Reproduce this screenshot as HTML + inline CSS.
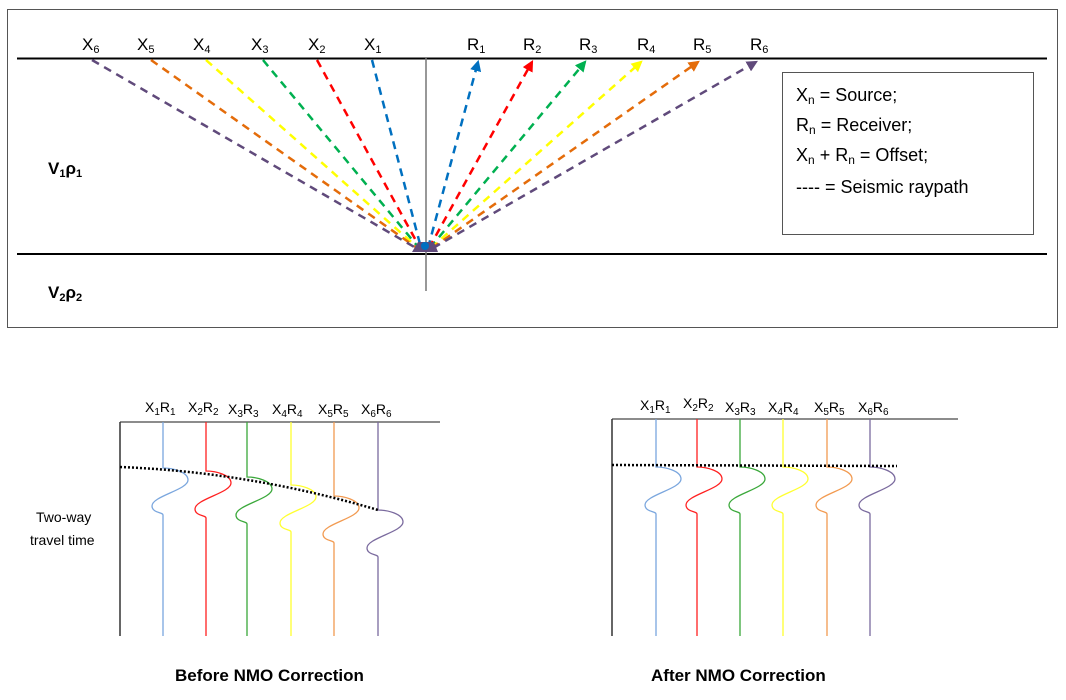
<!DOCTYPE html>
<html><head><meta charset="utf-8"><style>
body{margin:0;background:#fff}
svg{display:block;font-family:"Liberation Sans",sans-serif}
</style></head><body>
<svg width="1066" height="700" viewBox="0 0 1066 700">
<defs>
<marker id="a0" viewBox="0 0 10 10" refX="8" refY="5" markerWidth="4.5" markerHeight="4.5" orient="auto"><path d="M0,0L10,5L0,10z" fill="#0070c0"/></marker>
<marker id="a1" viewBox="0 0 10 10" refX="8" refY="5" markerWidth="4.5" markerHeight="4.5" orient="auto"><path d="M0,0L10,5L0,10z" fill="#ff0000"/></marker>
<marker id="a2" viewBox="0 0 10 10" refX="8" refY="5" markerWidth="4.5" markerHeight="4.5" orient="auto"><path d="M0,0L10,5L0,10z" fill="#00b050"/></marker>
<marker id="a3" viewBox="0 0 10 10" refX="8" refY="5" markerWidth="4.5" markerHeight="4.5" orient="auto"><path d="M0,0L10,5L0,10z" fill="#ffff00"/></marker>
<marker id="a4" viewBox="0 0 10 10" refX="8" refY="5" markerWidth="4.5" markerHeight="4.5" orient="auto"><path d="M0,0L10,5L0,10z" fill="#e46c0a"/></marker>
<marker id="a5" viewBox="0 0 10 10" refX="8" refY="5" markerWidth="4.5" markerHeight="4.5" orient="auto"><path d="M0,0L10,5L0,10z" fill="#604a7b"/></marker>
</defs>
<rect x="7.5" y="9.5" width="1050" height="318" fill="none" stroke="#555" stroke-width="1"/>
<line x1="17" y1="58.5" x2="1047" y2="58.5" stroke="#000" stroke-width="2"/>
<line x1="17" y1="254" x2="1047" y2="254" stroke="#000" stroke-width="2"/>
<line x1="426" y1="58" x2="426" y2="291" stroke="#777" stroke-width="1.5"/>
<g stroke-width="2.5" stroke-dasharray="8,6" fill="none">
<line x1="372" y1="60" x2="421" y2="248" stroke="#0070c0"/>
<line x1="317" y1="60" x2="420" y2="248" stroke="#ff0000"/>
<line x1="263" y1="60" x2="419" y2="248" stroke="#00b050"/>
<line x1="206" y1="60" x2="418" y2="248" stroke="#ffff00"/>
<line x1="151" y1="60" x2="417" y2="248" stroke="#e46c0a"/>
<line x1="92" y1="60" x2="416" y2="248" stroke="#604a7b"/>
<line x1="428" y1="248" x2="478" y2="62" stroke="#0070c0" marker-end="url(#a0)"/>
<line x1="429" y1="248" x2="532" y2="62" stroke="#ff0000" marker-end="url(#a1)"/>
<line x1="430" y1="248" x2="585" y2="62" stroke="#00b050" marker-end="url(#a2)"/>
<line x1="431" y1="248" x2="641" y2="62" stroke="#ffff00" marker-end="url(#a3)"/>
<line x1="432" y1="248" x2="698" y2="62" stroke="#e46c0a" marker-end="url(#a4)"/>
<line x1="433" y1="248" x2="756" y2="62" stroke="#604a7b" marker-end="url(#a5)"/>
</g>
<path d="M412,252 L418,242 L434,242 L438,252 Z" fill="#604a7b"/>
<circle cx="425" cy="246" r="4" fill="#0070c0"/>
<g font-size="17" fill="#000">
<text x="82" y="50">X<tspan font-size="11" dy="3">6</tspan></text>
<text x="137" y="50">X<tspan font-size="11" dy="3">5</tspan></text>
<text x="193" y="50">X<tspan font-size="11" dy="3">4</tspan></text>
<text x="251" y="50">X<tspan font-size="11" dy="3">3</tspan></text>
<text x="308" y="50">X<tspan font-size="11" dy="3">2</tspan></text>
<text x="364" y="50">X<tspan font-size="11" dy="3">1</tspan></text>
<text x="467" y="50">R<tspan font-size="11" dy="3">1</tspan></text>
<text x="523" y="50">R<tspan font-size="11" dy="3">2</tspan></text>
<text x="579" y="50">R<tspan font-size="11" dy="3">3</tspan></text>
<text x="637" y="50">R<tspan font-size="11" dy="3">4</tspan></text>
<text x="693" y="50">R<tspan font-size="11" dy="3">5</tspan></text>
<text x="750" y="50">R<tspan font-size="11" dy="3">6</tspan></text>
<text x="48" y="174" font-weight="bold">V<tspan font-size="11" dy="3">1</tspan><tspan dy="-3">ρ</tspan><tspan font-size="11" dy="3">1</tspan></text>
<text x="48" y="298" font-weight="bold">V<tspan font-size="11" dy="3">2</tspan><tspan dy="-3">ρ</tspan><tspan font-size="11" dy="3">2</tspan></text>
</g>
<rect x="782.5" y="72.5" width="251" height="162" fill="#fff" stroke="#555"/>
<g font-size="18" fill="#000">
<text x="796" y="101">X<tspan font-size="12" dy="3">n</tspan><tspan dy="-3"> = Source;</tspan></text>
<text x="796" y="131">R<tspan font-size="12" dy="3">n</tspan><tspan dy="-3"> = Receiver;</tspan></text>
<text x="796" y="161">X<tspan font-size="12" dy="3">n</tspan><tspan dy="-3"> + R</tspan><tspan font-size="12" dy="3">n</tspan><tspan dy="-3"> = Offset;</tspan></text>
<text x="796" y="193">---- = Seismic raypath</text>
</g>
<!-- Before panel -->
<line x1="120" y1="422" x2="440" y2="422" stroke="#666" stroke-width="1.5"/>
<line x1="120" y1="422" x2="120" y2="636" stroke="#333" stroke-width="1.5"/>
<g fill="none" stroke-width="1.3">
<path d="M163,422 V468 C173,468 188,472 188,480 C188,490 152,496 152,506 C152,513 163,512 163,515 V636" stroke="#7aa6de"/>
<path d="M206,422 V471 C216,471 231,475 231,483 C231,493 195,499 195,509 C195,516 206,515 206,518 V636" stroke="#ff2020"/>
<path d="M247,422 V477 C257,477 272,481 272,489 C272,499 236,505 236,515 C236,522 247,521 247,524 V636" stroke="#3aa83a"/>
<path d="M291,422 V485 C301,485 316,489 316,497 C316,507 280,513 280,523 C280,530 291,529 291,532 V636" stroke="#ffff30"/>
<path d="M334,422 V496 C344,496 359,500 359,508 C359,518 323,524 323,534 C323,541 334,540 334,543 V636" stroke="#f29a50"/>
<path d="M378,422 V510 C388,510 403,514 403,522 C403,532 367,538 367,548 C367,555 378,554 378,557 V636" stroke="#7a6a9e"/>
</g>
<path d="M120,467 Q250,472 378,510" fill="none" stroke="#000" stroke-width="2.5" stroke-dasharray="2,2"/>
<g font-size="14" fill="#000">
<text x="145" y="412">X<tspan font-size="10" dy="3">1</tspan><tspan dy="-3">R</tspan><tspan font-size="10" dy="3">1</tspan></text>
<text x="188" y="412">X<tspan font-size="10" dy="3">2</tspan><tspan dy="-3">R</tspan><tspan font-size="10" dy="3">2</tspan></text>
<text x="228" y="414">X<tspan font-size="10" dy="3">3</tspan><tspan dy="-3">R</tspan><tspan font-size="10" dy="3">3</tspan></text>
<text x="272" y="414">X<tspan font-size="10" dy="3">4</tspan><tspan dy="-3">R</tspan><tspan font-size="10" dy="3">4</tspan></text>
<text x="318" y="414">X<tspan font-size="10" dy="3">5</tspan><tspan dy="-3">R</tspan><tspan font-size="10" dy="3">5</tspan></text>
<text x="361" y="414">X<tspan font-size="10" dy="3">6</tspan><tspan dy="-3">R</tspan><tspan font-size="10" dy="3">6</tspan></text>
<text x="36" y="522">Two-way</text>
<text x="30" y="545">travel time</text>
</g>
<!-- After panel -->
<line x1="612" y1="419" x2="958" y2="419" stroke="#666" stroke-width="1.5"/>
<line x1="612" y1="419" x2="612" y2="636" stroke="#333" stroke-width="1.5"/>
<g fill="none" stroke-width="1.3">
<path d="M656,419 V467 C666,467 681,471 681,479 C681,489 645,495 645,505 C645,512 656,511 656,514 V636" stroke="#7aa6de"/>
<path d="M697,419 V467 C707,467 722,471 722,479 C722,489 686,495 686,505 C686,512 697,511 697,514 V636" stroke="#ff2020"/>
<path d="M740,419 V467 C750,467 765,471 765,479 C765,489 729,495 729,505 C729,512 740,511 740,514 V636" stroke="#3aa83a"/>
<path d="M783,419 V467 C793,467 808,471 808,479 C808,489 772,495 772,505 C772,512 783,511 783,514 V636" stroke="#ffff30"/>
<path d="M827,419 V467 C837,467 852,471 852,479 C852,489 816,495 816,505 C816,512 827,511 827,514 V636" stroke="#f29a50"/>
<path d="M870,419 V467 C880,467 895,471 895,479 C895,489 859,495 859,505 C859,512 870,511 870,514 V636" stroke="#7a6a9e"/>
</g>
<line x1="612" y1="465" x2="897" y2="466" stroke="#000" stroke-width="2.5" stroke-dasharray="2,2"/>
<g font-size="14" fill="#000">
<text x="640" y="410">X<tspan font-size="10" dy="3">1</tspan><tspan dy="-3">R</tspan><tspan font-size="10" dy="3">1</tspan></text>
<text x="683" y="408">X<tspan font-size="10" dy="3">2</tspan><tspan dy="-3">R</tspan><tspan font-size="10" dy="3">2</tspan></text>
<text x="725" y="412">X<tspan font-size="10" dy="3">3</tspan><tspan dy="-3">R</tspan><tspan font-size="10" dy="3">3</tspan></text>
<text x="768" y="412">X<tspan font-size="10" dy="3">4</tspan><tspan dy="-3">R</tspan><tspan font-size="10" dy="3">4</tspan></text>
<text x="814" y="412">X<tspan font-size="10" dy="3">5</tspan><tspan dy="-3">R</tspan><tspan font-size="10" dy="3">5</tspan></text>
<text x="858" y="412">X<tspan font-size="10" dy="3">6</tspan><tspan dy="-3">R</tspan><tspan font-size="10" dy="3">6</tspan></text>
</g>
<g font-size="17" font-weight="bold" fill="#000">
<text x="175" y="681">Before NMO Correction</text>
<text x="651" y="681">After NMO Correction</text>
</g>
</svg>
</body></html>
